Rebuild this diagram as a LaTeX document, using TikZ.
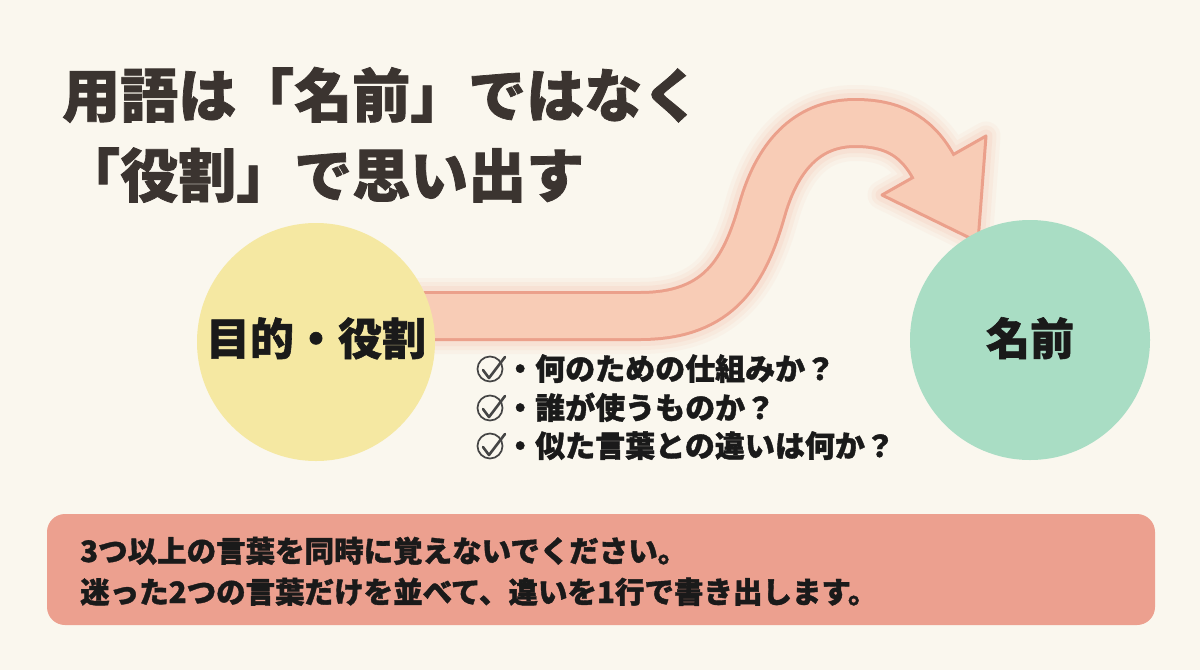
\documentclass[tikz,border=0pt]{standalone}
\usepackage{fontspec}
\setmainfont{Noto Sans CJK JP}[BoldFeatures={FakeBold=1.3}]
\definecolor{bg}{HTML}{FAF7EE}
\definecolor{titlec}{HTML}{3B3430}
\definecolor{yellowc}{HTML}{F5E8A2}
\definecolor{greenc}{HTML}{A9DDC4}
\definecolor{bandfill}{HTML}{F8CCB6}
\definecolor{bandline}{HTML}{EBA08B}
\definecolor{glowc}{HTML}{F3B49E}
\definecolor{boxc}{HTML}{ECA08F}
\definecolor{inkc}{HTML}{1A1A1A}
\definecolor{checkc}{HTML}{454545}
\tikzset{
  titletext/.style={anchor=base west, inner sep=0pt, text=titlec, font=\fontsize{58}{58}\selectfont\bfseries},
  circlelabel/.style={anchor=base, inner sep=0pt, text=inkc, font=\fontsize{44}{44}\selectfont\bfseries},
  listtext/.style={anchor=base west, inner sep=0pt, text=inkc, font=\fontsize{30}{30}\selectfont\bfseries},
  notetext/.style={anchor=base west, inner sep=0pt, text=inkc, font=\fontsize{29.5}{29.5}\selectfont\bfseries},
  checkring/.style={circle, draw=checkc, line width=1.7pt, minimum size=25pt, inner sep=0pt},
  checkline/.style={draw=checkc, line width=2.6pt, line cap=round, line join=round},
}
\begin{document}
\begin{tikzpicture}[x=1pt,y=-1pt]
\fill[bg] (0,0) rectangle (1200,670);
\useasboundingbox (0,0) rectangle (1200,670);
\def\bandpath{(400,316) -- (640,316) .. controls (720,316) and (745,270) .. (762,210) .. controls (779,150) and (812,123) .. (855,123) .. controls (890,123) and (915,134) .. (933,166)}
\def\headpath{(882,195) -- (978,242) -- (986,136) -- cycle}
% glow
\foreach \w/\o in {76/0.08, 68/0.11, 60/0.15}{
  \begin{scope}[transparency group, opacity=\o]
    \draw[glowc, line width=\w pt] \bandpath;
    \filldraw[glowc, line width=\w pt-47pt, line join=round] \headpath;
  \end{scope}
}
% band outline, head, band fill
\draw[bandline, line width=50pt] \bandpath;
\filldraw[fill=bandfill, draw=bandline, line width=3pt, line join=round] \headpath;
\draw[bandfill, line width=44pt] \bandpath -- (934.5,168.6);
% circles
\node[circle, fill=yellowc, minimum size=238pt, inner sep=0pt] (purpose) at (316,342) {};
\node[circle, fill=greenc, minimum size=240pt, inner sep=0pt] (name) at (1030,340) {};
\node[circlelabel] (purposet) at (316,355) {目的・役割};
\node[circlelabel] (namet) at (1030,355) {名前};
% title
\node[titletext] (title1) at (62,117) {用語は「名前」ではなく};
\node[titletext] (title2) at (62,197) {「役割」で思い出す};
% checklist
\foreach \i/\y/\t in {1/369/・何のための仕組みか？, 2/408/・誰が使うものか？, 3/446/・似た言葉との違いは何か？}{
  \node[checkring] (ck\i) at (490,\y) {};
  \draw[checkline] ([shift={(-7,1)}]ck\i.center) -- ([shift={(-1,9)}]ck\i.center) -- ([shift={(15,-12)}]ck\i.center);
  \node[listtext] (item\i) at (505,\y+11) {\t};
}
% note box
\node[fill=boxc, rounded corners=18pt, minimum width=1108pt, minimum height=111pt, inner sep=0pt] (note) at (601,569.5) {};
\node[notetext] (note1) at (80,562) {3つ以上の言葉を同時に覚えないでください。};
\node[notetext] (note2) at (80,603) {迷った2つの言葉だけを並べて、違いを1行で書き出します。};
\end{tikzpicture}
\end{document}
